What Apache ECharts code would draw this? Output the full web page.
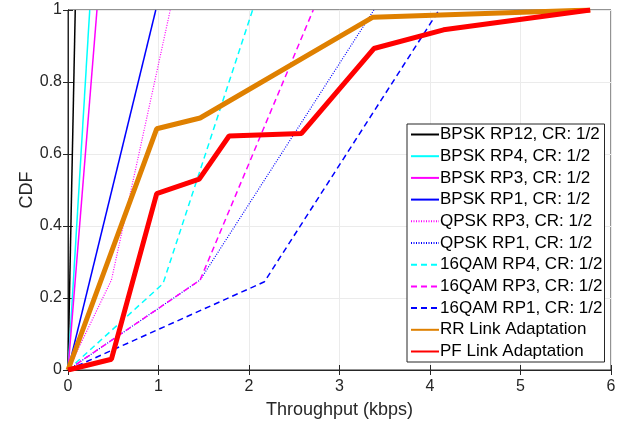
<!DOCTYPE html>
<html>
<head>
<meta charset="utf-8">
<script src="https://cdn.jsdelivr.net/npm/echarts@6/dist/echarts.min.js"></script>
<style>
  html, body { margin: 0; padding: 0; background: #fff; }
  #chart { width: 630px; height: 425px; }
</style>
</head>
<body>
<div id="chart"></div>
<script>
// [throughput kbps, CDF] points
var bpskRp12 = [[0, 0], [0.08, 1]];
var bpskRp4 = [[0, 0], [0.24, 1]];
var bpskRp3 = [[0, 0], [0.32, 1]];
var bpskRp1 = [[0, 0], [0.97, 1]];
var qpskRp3 = [[0, 0], [0.48, 0.25], [1.13, 1]];
var qpskRp1 = [[0, 0], [1.46, 0.25], [3.38, 1]];
var qam16Rp4 = [[0, 0], [1.05, 0.24], [2.04, 1]];
var qam16Rp3 = [[0, 0], [1.46, 0.25], [2.71, 1]];
var qam16Rp1 = [[0, 0], [2.17, 0.245], [4.1, 1]];
var rrLinkAdapt = [[0, 0], [0.98, 0.67], [1.46, 0.7], [3.37, 0.98], [5.77, 1]];
var pfLinkAdapt = [[0, 0], [0.48, 0.03], [0.98, 0.49], [1.45, 0.53], [1.78, 0.65], [2.58, 0.657], [3.38, 0.893], [4.15, 0.945], [5.77, 1]];

var xTicks = [0, 1, 2, 3, 4, 5, 6];
var yTicks = [0, 0.2, 0.4, 0.6, 0.8, 1];

var fontFam = '"Liberation Sans", Arial, sans-serif';
var axisColor = '#262626';

function line(name, data, color, width, type) {
	return {
		name: name,
		type: 'line',
		data: data,
		symbol: 'none',
		silent: true,
		animation: false,
		lineStyle: { color: color, width: width, type: type },
		itemStyle: { color: color }
	};
}

var myChart = echarts.init(document.getElementById('chart'));
myChart.setOption({
	animation: false,
	grid: { left: 68, right: 19, top: 10, bottom: 55, show: true, borderColor: axisColor, borderWidth: 1, backgroundColor: '#fff' },
	legend: {
		orient: 'vertical',
		left: 407,
		top: 124,
		padding: [2, 2, 2, 3],
		itemWidth: 28,
		itemHeight: 14,
		itemGap: 4.7,
		backgroundColor: '#fff',
		borderColor: axisColor,
		borderWidth: 1,
		itemStyle: { opacity: 0 },
		textStyle: { fontFamily: fontFam, fontSize: 17, color: '#000', lineHeight: 14, padding: [0, 0, 0, -4] },
		data: ['BPSK RP12, CR: 1/2', 'BPSK RP4, CR: 1/2', 'BPSK RP3, CR: 1/2', 'BPSK RP1, CR: 1/2',
			'QPSK RP3, CR: 1/2', 'QPSK RP1, CR: 1/2', '16QAM RP4, CR: 1/2', '16QAM RP3, CR: 1/2',
			'16QAM RP1, CR: 1/2', 'RR Link Adaptation', 'PF Link Adaptation']
	},
	xAxis: [{
		type: 'value',
		min: xTicks[0],
		max: xTicks[xTicks.length - 1],
		interval: 1,
		name: 'Throughput (kbps)',
		nameLocation: 'middle',
		nameGap: 31,
		nameMoveOverlap: false,
		nameTextStyle: { fontFamily: fontFam, fontSize: 18, color: axisColor },
		axisLine: { lineStyle: { color: axisColor } },
		axisTick: { inside: true, length: 5, lineStyle: { color: axisColor } },
		axisLabel: { fontFamily: fontFam, fontSize: 16, color: axisColor, margin: 9 },
		splitLine: { show: true, lineStyle: { color: '#ebebeb' } }
	}, {
		type: 'value',
		position: 'top',
		min: xTicks[0],
		max: xTicks[xTicks.length - 1],
		interval: 1,
		axisLine: { show: true, lineStyle: { color: axisColor } },
		axisTick: { show: true, inside: true, length: 5, lineStyle: { color: axisColor } },
		axisLabel: { show: false },
		splitLine: { show: false }
	}],
	yAxis: [{
		type: 'value',
		min: yTicks[0],
		max: yTicks[yTicks.length - 1],
		interval: 0.2,
		name: 'CDF',
		nameLocation: 'middle',
		nameGap: 32,
		nameMoveOverlap: false,
		nameTextStyle: { fontFamily: fontFam, fontSize: 18, color: axisColor },
		axisLine: { show: true, lineStyle: { color: axisColor } },
		axisTick: { show: true, inside: true, length: 5, lineStyle: { color: axisColor } },
		axisLabel: { fontFamily: fontFam, fontSize: 16, color: axisColor, margin: 6 },
		splitLine: { show: true, lineStyle: { color: '#ebebeb' } }
	}, {
		type: 'value',
		position: 'right',
		min: yTicks[0],
		max: yTicks[yTicks.length - 1],
		interval: 0.2,
		axisLine: { show: true, lineStyle: { color: axisColor } },
		axisTick: { show: true, inside: true, length: 5, lineStyle: { color: axisColor } },
		axisLabel: { show: false },
		splitLine: { show: false }
	}],
	series: [
		line('BPSK RP12, CR: 1/2', bpskRp12, '#000000', 1.5, 'solid'),
		line('BPSK RP4, CR: 1/2', bpskRp4, '#00ffff', 1.5, 'solid'),
		line('BPSK RP3, CR: 1/2', bpskRp3, '#ff00ff', 1.5, 'solid'),
		line('BPSK RP1, CR: 1/2', bpskRp1, '#0000ff', 1.5, 'solid'),
		line('QPSK RP3, CR: 1/2', qpskRp3, '#ff00ff', 1.2, [1, 1.5]),
		line('QPSK RP1, CR: 1/2', qpskRp1, '#0000ff', 1.2, [1, 1.5]),
		line('16QAM RP4, CR: 1/2', qam16Rp4, '#00ffff', 1.5, [6, 4]),
		line('16QAM RP3, CR: 1/2', qam16Rp3, '#ff00ff', 1.5, [6, 4]),
		line('16QAM RP1, CR: 1/2', qam16Rp1, '#0000ff', 1.5, [6, 4]),
		line('RR Link Adaptation', rrLinkAdapt, '#df8000', 5, 'solid'),
		line('PF Link Adaptation', pfLinkAdapt, '#ff0000', 5, 'solid')
	]
});
</script>
</body>
</html>
